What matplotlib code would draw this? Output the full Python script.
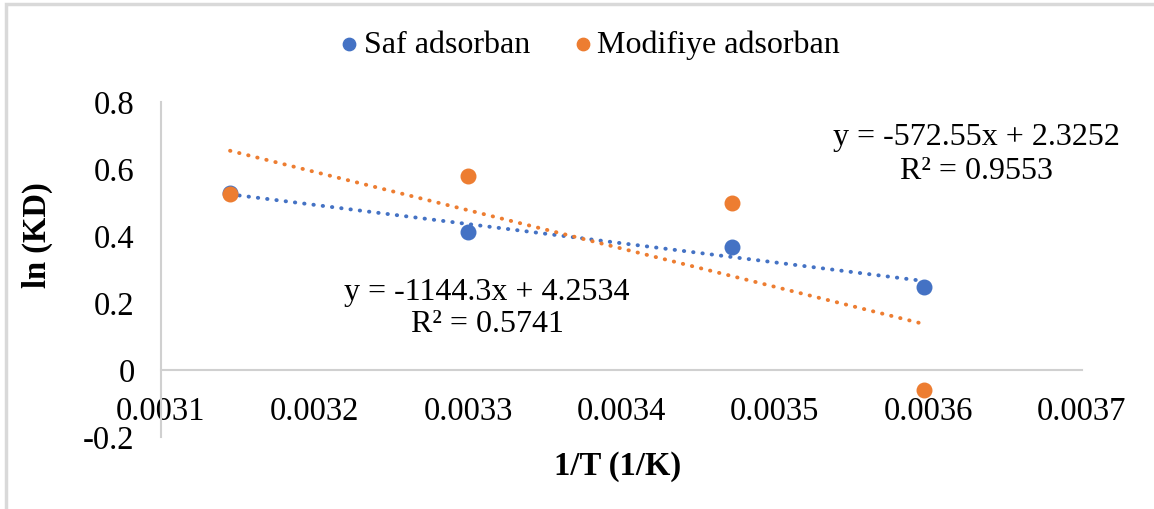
import numpy as np
import matplotlib.pyplot as plt
from matplotlib.patches import Rectangle

# veriler
inv_T = [0.003145, 0.003300, 0.003472, 0.003597]
saf = [0.527, 0.412, 0.367, 0.248]
modifiye = [0.524, 0.579, 0.499, -0.060]

# trendline katsayilari (grafikteki denklemler)
saf_fit = (-572.55, 2.3252)
mod_fit = (-1144.3, 4.2534)
saf_eq = ["y = -572.55x + 2.3252", "R² = 0.9553"]
mod_eq = ["y = -1144.3x + 4.2534", "R² = 0.5741"]

blue = "#4472C4"
orange = "#ED7D31"
gray = "#D0D0D0"

plt.rcParams["font.family"] = ["Liberation Serif", "DejaVu Serif"]

fig = plt.figure(figsize=(11.54, 5.09), dpi=100)
fig.patches.append(Rectangle((0.005, -0.1), 1.2, 1.092, transform=fig.transFigure,
                             fill=False, edgecolor="#D9D9D9", linewidth=2.5))
ax = fig.add_axes([0.1395, 0.1415, 0.798, 0.658])

ax.scatter(inv_T, saf, s=110, color=blue, zorder=3, label="Saf adsorban")
ax.scatter(inv_T, modifiye, s=110, color=orange, zorder=3, label="Modifiye adsorban")

xs = np.array([min(inv_T), max(inv_T)])
dots = (0, (0.1, 2.3))
ax.plot(xs, saf_fit[0] * xs + saf_fit[1], color=blue, linestyle=dots, linewidth=2.8,
        dash_capstyle="round")
ax.plot(xs, mod_fit[0] * xs + mod_fit[1], color=orange, linestyle=dots, linewidth=2.8,
        dash_capstyle="round")

ax.set_xlim(0.0031, 0.0037)
ax.set_ylim(-0.2, 0.8)
ax.set_xticks([0.0031, 0.0032, 0.0033, 0.0034, 0.0035, 0.0036, 0.0037])
ax.set_xticklabels(["0.0031", "0.0032", "0.0033", "0.0034", "0.0035", "0.0036", "0.0037"])
ax.set_yticks([-0.2, 0, 0.2, 0.4, 0.6, 0.8])
ax.set_yticklabels(["-0.2", "0", "0.2", "0.4", "0.6", "0.8"])

for s in ["top", "right"]:
    ax.spines[s].set_visible(False)
ax.spines["bottom"].set_position(("data", 0))
ax.spines["bottom"].set_color(gray)
ax.spines["left"].set_color(gray)
ax.spines["bottom"].set_linewidth(1.5)
ax.spines["left"].set_linewidth(1.5)
ax.tick_params(axis="x", length=0, pad=19, labelsize=23.5)
ax.tick_params(axis="y", length=0, pad=19, labelsize=23.5)

fig.text(0.8458, 0.7289, saf_eq[0], ha="center", va="center", fontsize=23)
fig.text(0.8458, 0.6625, saf_eq[1], ha="center", va="center", fontsize=23)
fig.text(0.4220, 0.4263, mod_eq[0], ha="center", va="center", fontsize=23)
fig.text(0.4220, 0.3615, mod_eq[1], ha="center", va="center", fontsize=23)

fig.text(0.5355, 0.083, "1/T (1/K)", ha="center", va="center", fontsize=23.5, fontweight="bold")
fig.text(0.032, 0.538, "ln (KD)", ha="center", va="center", rotation=90, fontsize=23.5,
         fontweight="bold")

fig.legend(loc="center", bbox_to_anchor=(0.5015, 0.912), ncol=2, frameon=False, fontsize=23,
           handletextpad=-0.55, columnspacing=0.65, markerscale=0.85)

fig.savefig("out.png", dpi=100)
